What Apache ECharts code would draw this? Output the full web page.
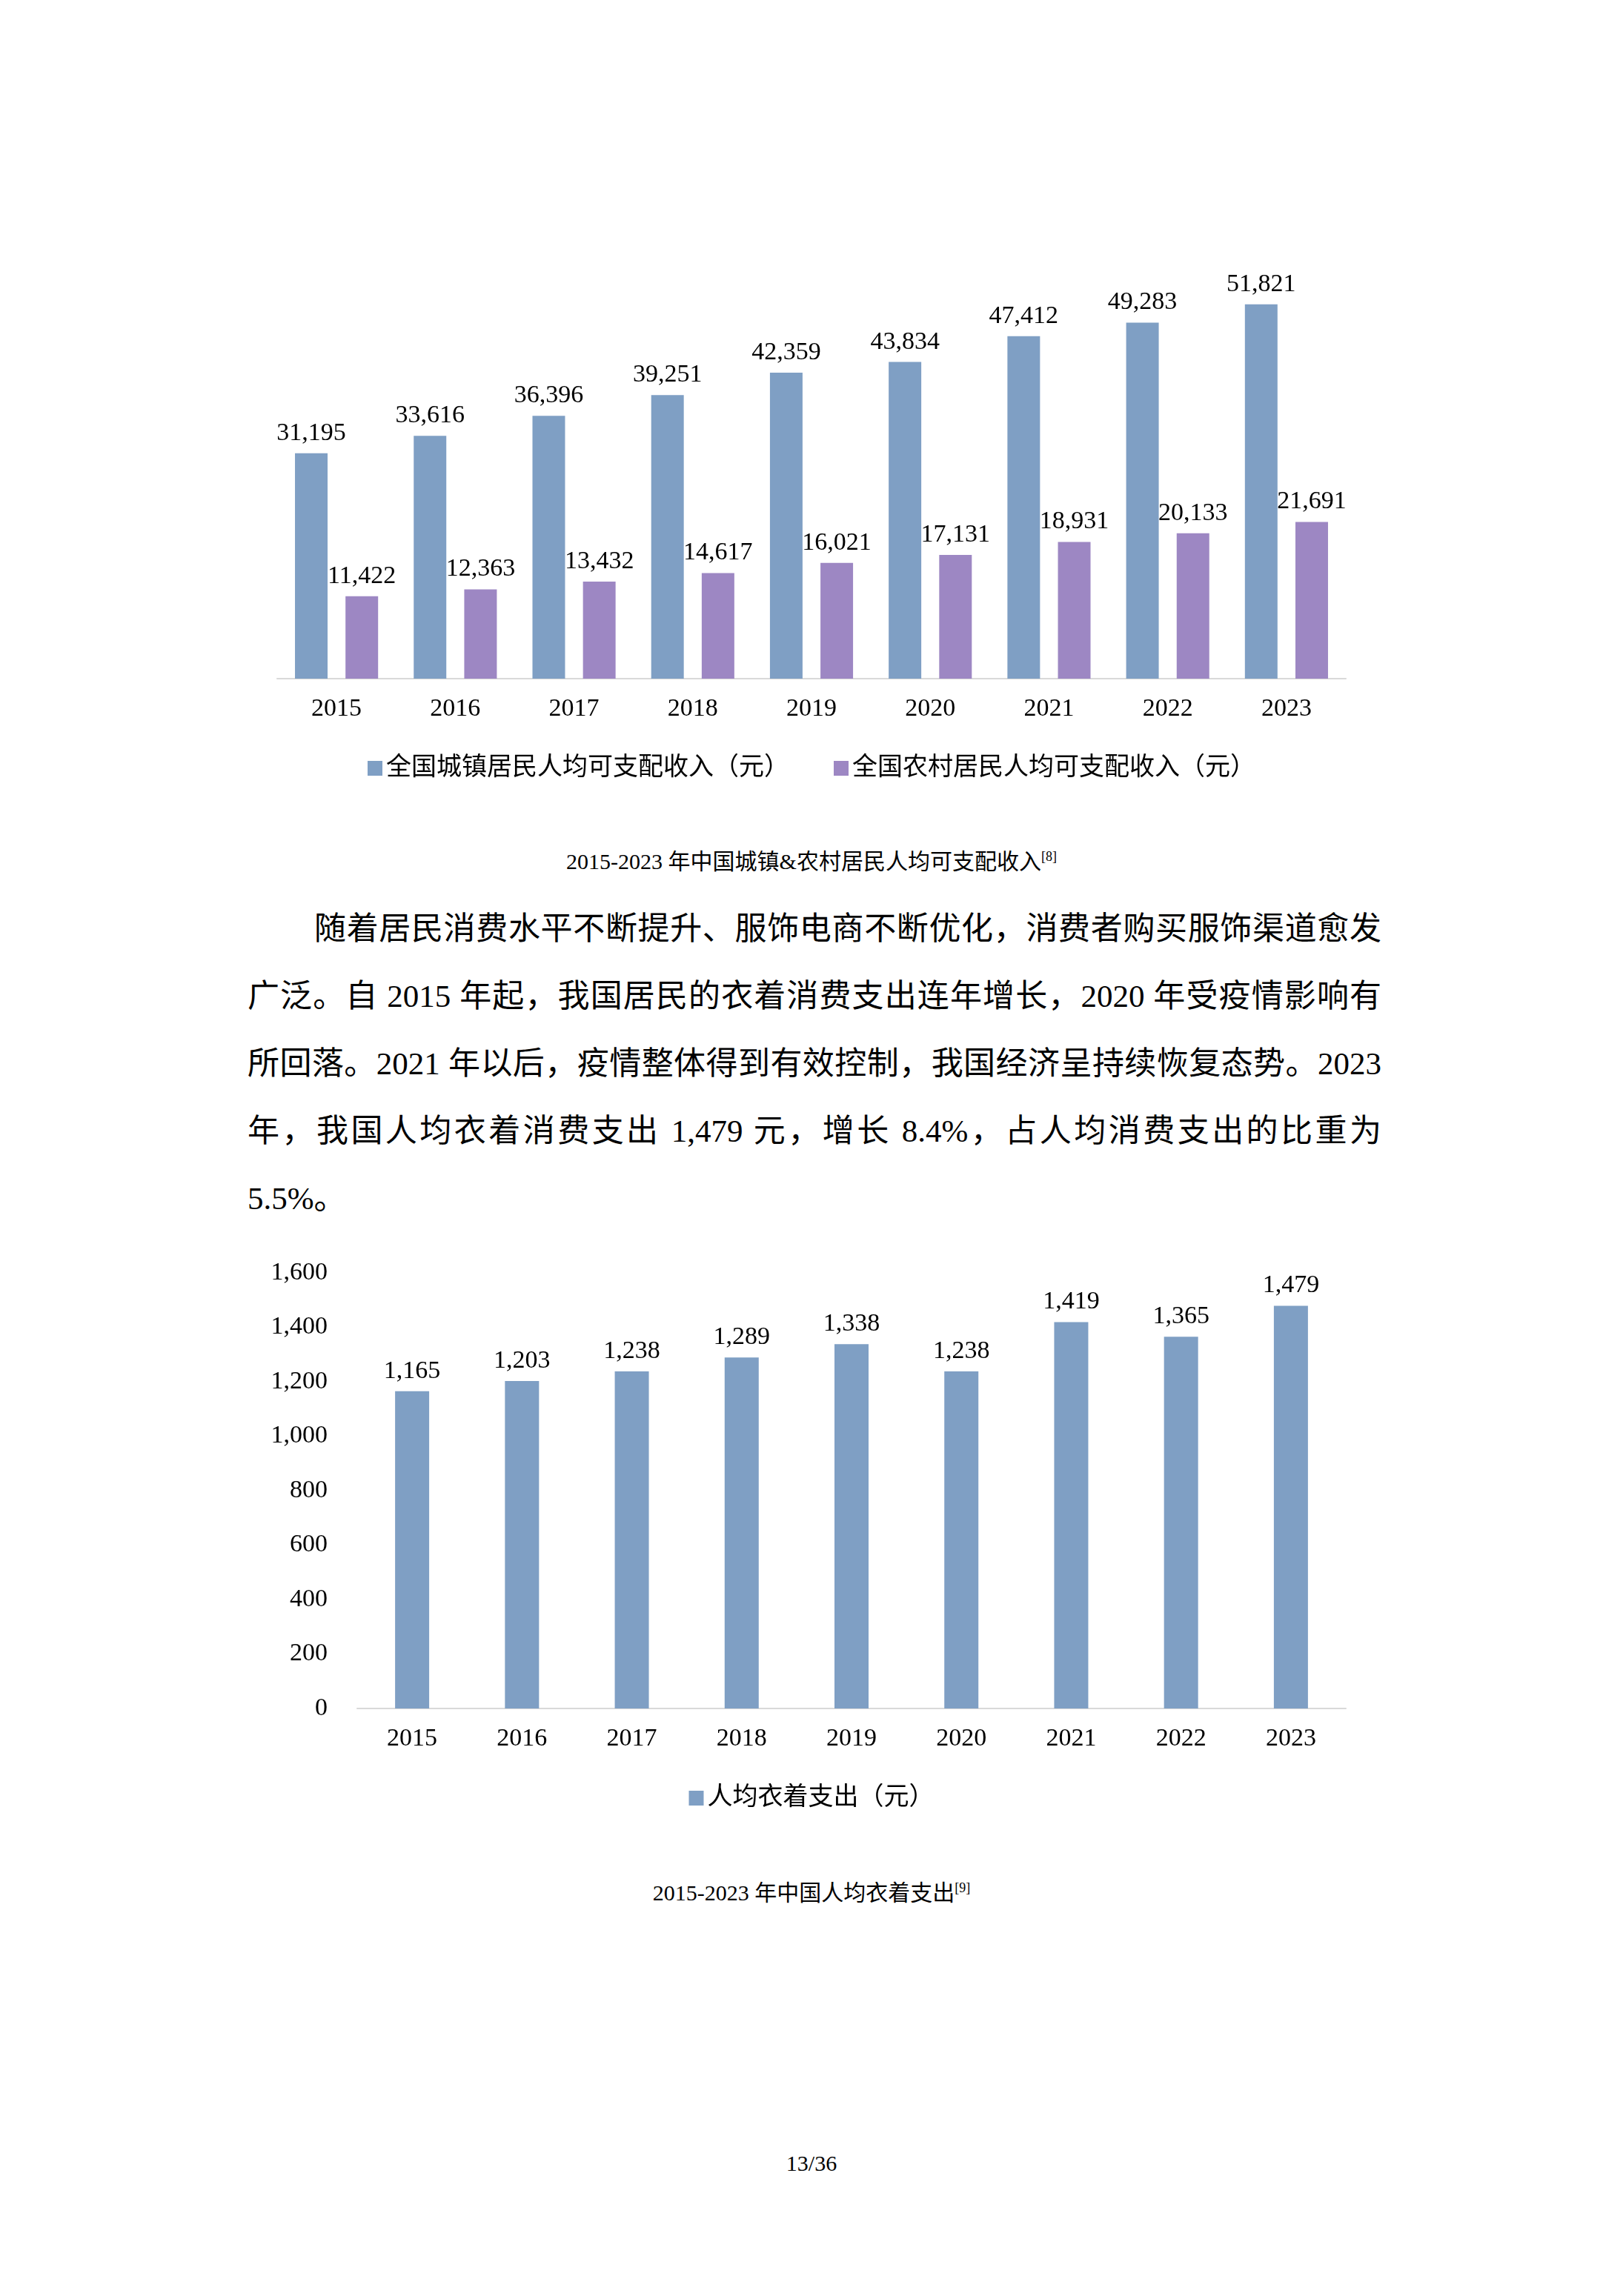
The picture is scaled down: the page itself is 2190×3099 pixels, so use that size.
<!DOCTYPE html>
<html><head><meta charset="utf-8">
<script src="https://cdn.jsdelivr.net/npm/echarts@6/dist/echarts.min.js"></script>
<style>
body{margin:0;width:2190px;height:3099px;background:#fff;position:relative;font-family:"Liberation Serif","Noto Sans CJK SC",serif;color:#000}
.cap{position:absolute;left:0;width:2190px;text-align:center;font-size:30px}
.body{position:absolute;left:334px;width:1530px;font-size:43px;line-height:91px;text-align:justify}
sup{font-size:18px}
</style></head><body>
<div id="c1" style="position:absolute;left:0;top:250px;width:2190px;height:850px"></div>
<div class="cap" style="top:1138px">2015-2023 年中国城镇&amp;农村居民人均可支配收入<sup>[8]</sup></div>
<div class="body" style="top:1208px">
<div style="text-indent:90px">随着居民消费水平不断提升、服饰电商不断优化，消费者购买服饰渠道愈发广泛。自 2015 年起，我国居民的衣着消费支出连年增长，2020 年受疫情影响有所回落。2021 年以后，疫情整体得到有效控制，我国经济呈持续恢复态势。2023 年，我国人均衣着消费支出 1,479 元，增长 8.4%，占人均消费支出的比重为 5.5%。</div>
</div>
<div id="c2" style="position:absolute;left:0;top:1650px;width:2190px;height:850px"></div>
<div class="cap" style="top:2530px">2015-2023 年中国人均衣着支出<sup>[9]</sup></div>
<div class="cap" style="top:2903px">13/36</div>
<script>
const years=['2015','2016','2017','2018','2019','2020','2021','2022','2023'];
const urban=[31195,33616,36396,39251,42359,43834,47412,49283,51821];
const rural=[11422,12363,13432,14617,16021,17131,18931,20133,21691];
const clothing=[1165,1203,1238,1289,1338,1238,1419,1365,1479];
const ff='"Liberation Serif","Noto Sans CJK SC",serif';
const fmt=p=>p.value.toLocaleString('en-US');
const lab={show:true,position:'top',color:'#000',fontSize:34,fontFamily:ff,formatter:fmt,distance:10};
const xAx={type:'category',data:years,axisLine:{lineStyle:{color:'#d9d9d9',width:2}},axisTick:{show:false},axisLabel:{color:'#000',fontSize:34,fontFamily:ff,margin:24}};
const leg={bottom:50,itemWidth:20,itemHeight:20,itemGap:60,icon:'rect',textStyle:{color:'#000',fontSize:34,fontFamily:ff}};
echarts.init(document.getElementById('c1')).setOption({animation:false,
grid:{left:374,right:374,top:81,bottom:184},
legend:Object.assign({},leg,{top:765,bottom:null}),
xAxis:xAx,yAxis:{type:'value',min:0,max:60000,show:false},
series:[{name:'全国城镇居民人均可支配收入（元）',type:'bar',data:urban,itemStyle:{color:'#7F9FC4'},label:lab,barGap:'55%',barCategoryGap:'30%'},
{name:'全国农村居民人均可支配收入（元）',type:'bar',data:rural,itemStyle:{color:'#9D87C3'},label:lab}]});
echarts.init(document.getElementById('c2')).setOption({animation:false,
grid:{left:482,right:374,top:68,bottom:194},
legend:Object.assign({},leg,{top:755,bottom:null}),
xAxis:xAx,yAxis:{type:'value',min:0,max:1600,interval:200,splitLine:{show:false},axisLabel:{color:'#000',fontSize:34,fontFamily:ff,margin:40,formatter:v=>v.toLocaleString('en-US')}},
series:[{name:'人均衣着支出（元）',type:'bar',data:clothing,barWidth:46,itemStyle:{color:'#7F9FC4'},label:lab}]});
</script></body></html>
